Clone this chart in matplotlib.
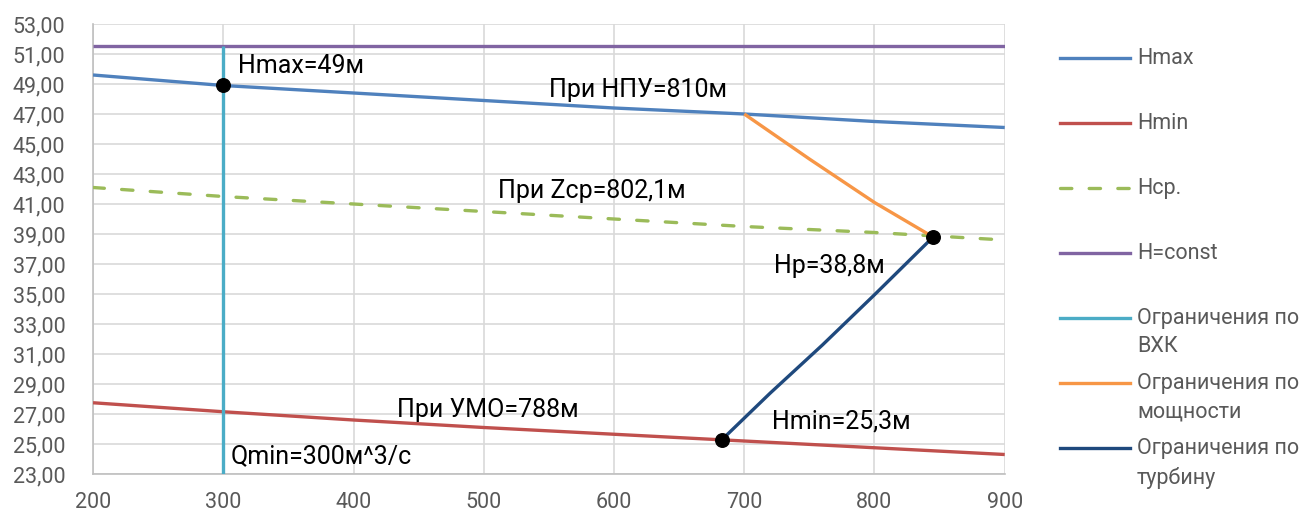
import matplotlib.pyplot as plt
from matplotlib.lines import Line2D
from matplotlib.ticker import FuncFormatter

plt.rcParams['font.family'] = ['Roboto', 'DejaVu Sans']

# расходы, м^3/с
q = [200, 300, 400, 500, 600, 700, 800, 900]
h_max = [49.6, 48.9, 48.4, 47.9, 47.4, 47.0, 46.5, 46.1]
h_min = [27.75, 27.15, 26.6, 26.1, 25.65, 25.2, 24.75, 24.3]
h_sr = [42.1, 41.5, 41.0, 40.5, 40.0, 39.5, 39.1, 38.6]
h_const = [51.5] * len(q)

q_vxk = [300, 300]
h_vxk = [23.0, 51.5]

q_mosh = [700, 750, 800, 845]
h_mosh = [47.0, 44.0, 41.1, 38.8]

q_turb = [683, 720, 760, 800, 845]
h_turb = [25.3, 28.4, 31.6, 34.95, 38.8]

q_pts = [300, 845, 683]
h_pts = [48.9, 38.8, 25.3]

fig = plt.figure(figsize=(13.03, 5.15), dpi=100)
ax = fig.add_axes([0.0714, 0.0796, 0.6997, 0.8738])

lw = 2.4
dash = (0, (3.4, 5.2))
series = [
    (q, h_max, '#4f81bd', '-', 'Hmax'),
    (q, h_min, '#c0504d', '-', 'Hmin'),
    (q, h_sr, '#9bbb59', dash, 'Hср.'),
    (q, h_const, '#8064a2', '-', 'H=const'),
    (q_vxk, h_vxk, '#4bacc6', '-', 'Ограничения по\nВХК'),
    (q_mosh, h_mosh, '#f79646', '-', 'Ограничения по\nмощности'),
    (q_turb, h_turb, '#1f497d', '-', 'Ограничения по\nтурбину'),
]
for xs, ys, c, ls, lab in series:
    ax.plot(xs, ys, color=c, linestyle=ls, lw=lw, solid_capstyle='butt',
            dash_capstyle='round', zorder=3)

ax.scatter(q_pts, h_pts, s=95, color='black', zorder=5)

ax.set_xlim(200, 900)
ax.set_ylim(23, 53)
ax.set_xticks(range(200, 901, 100))
ax.set_yticks(range(23, 54, 2))
ax.yaxis.set_major_formatter(FuncFormatter(lambda v, p: f'{v:.2f}'.replace('.', ',')))
ax.grid(True, color='#d9d9d9', lw=1.2)
ax.set_axisbelow(True)
for s in ['top', 'right']:
    ax.spines[s].set_visible(False)
for s in ['left', 'bottom']:
    ax.spines[s].set_color('#bfbfbf')
    ax.spines[s].set_linewidth(1.2)
ax.tick_params(length=0, labelsize=15.5, colors='#595959')
ax.tick_params(axis='y', pad=20)
ax.tick_params(axis='x', pad=13)

fs = 18
ax.text(311, 50.2, 'Hmax=49м', fontsize=fs, va='center')
ax.text(550, 48.6, 'При НПУ=810м', fontsize=fs, va='center')
ax.text(511, 41.9, 'При Zср=802,1м', fontsize=fs, va='center')
ax.text(723, 36.9, 'Нр=38,8м', fontsize=fs, va='center')
ax.text(721, 26.5, 'Hmin=25,3м', fontsize=fs, va='center')
ax.text(433, 27.3, 'При УМО=788м', fontsize=fs, va='center')
ax.text(306, 24.2, 'Qmin=300м^3/с', fontsize=fs, va='center')

# легенда справа
y0 = 1 - 58 / 515
step = 65 / 515
for i, (xs, ys, c, ls, lab) in enumerate(series):
    y = y0 - i * step
    fig.add_artist(Line2D([1060 / 1303, 1130 / 1303], [y, y], color=c, lw=lw,
                          linestyle=ls, dash_capstyle='round',
                          transform=fig.transFigure))
    fig.text(1137 / 1303, y + 10 / 515, lab, fontsize=15.5, color='#595959',
             va='top', linespacing=1.45, transform=fig.transFigure)

fig.savefig('out.png', dpi=100)
